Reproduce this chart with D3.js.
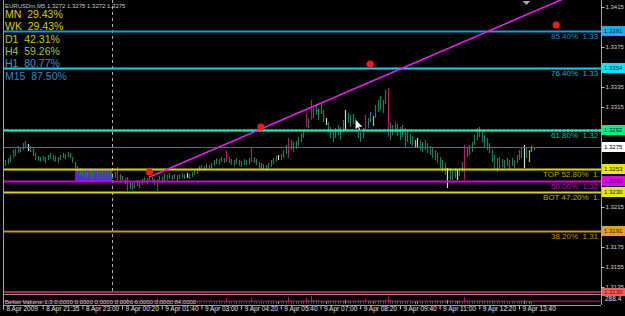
<!DOCTYPE html>
<html>
<head>
<meta charset="utf-8">
<script src="https://cdn.jsdelivr.net/npm/d3@7"></script>
<style>
body { margin: 0; background: #000; }
svg { display: block; font-family: "Liberation Sans", Arial, sans-serif; }
</style>
</head>
<body>
<svg width="625" height="316"></svg>
<script>
// ---- data ----
var symbolTitle = "EURUSDm,M5  1.3272 1.3275 1.3272 1.3275";
var lastPrice = 1.3275;

var tfNames = ["MN", "WK", "D1", "H4", "H1", "M15"];
var tfValues = [29.43, 29.43, 42.31, 59.26, 80.77, 87.50];

var fibPct = [85.40, 76.40, 61.80, 52.80, 50.00, 47.20, 38.20];
var fibPrefix = ["", "", "", "TOP ", "", "BOT ", ""];
var fibPrice = [1.3391, 1.3354, 1.3292, 1.3253, 1.3241, 1.3230, 1.3191];
var stopPrice = 1.3130;

// price-axis labels that are not hidden behind a price tag
var axisTicks = [1.3415, 1.3375, 1.3335, 1.3315, 1.3215, 1.3175, 1.3155, 1.3135];

var timeLabels = ["8 Apr 2009", "8 Apr 21:35", "8 Apr 23:00", "9 Apr 00:20", "9 Apr 01:40",
                  "9 Apr 03:00", "9 Apr 04:20", "9 Apr 05:40", "9 Apr 07:00", "9 Apr 08:20",
                  "9 Apr 09:40", "9 Apr 11:00", "9 Apr 12:20", "9 Apr 13:40"];
var timeTickIdx = [-1, 15, 31, 47, 63, 79, 95, 111, 127, 143, 159, 175, 191, 207];

// M5 bars, prices in pips above 1.3000
var barHigh = [262,264,267,272,273,276,275,279,281,278,276,274,269,266,265,266,265,267,269,267,
  266,265,267,269,268,270,269,265,260,256,254,252,251,250,252,250,252,251,250,252,
  251,253,251,249,250,255,248,246,244,245,240,239,241,242,240,243,245,244,246,245,
  243,243,246,245,248,247,249,247,248,247,248,249,248,249,248,250,252,254,256,257,
  256,258,257,259,262,264,263,265,264,272,265,263,262,264,262,261,263,262,264,274,
  265,263,260,259,258,257,259,262,264,266,267,268,272,277,284,282,280,281,285,289,
  292,309,304,322,314,317,314,318,312,304,300,295,292,294,297,295,302,312,309,307,
  308,304,297,292,294,307,304,310,306,317,322,326,322,332,334,300,297,300,298,295,
  297,294,290,288,286,282,284,282,280,282,279,276,274,272,269,265,262,259,254,254,
  252,254,252,254,260,277,274,277,280,287,294,295,290,287,284,279,272,267,264,265,
  263,262,264,262,264,262,267,272,274,277,274,272,276,275];
var barLow = [256,258,260,264,266,269,270,272,274,271,270,266,262,261,260,261,259,262,263,261,
  260,259,262,264,263,265,264,259,254,250,247,246,244,245,246,244,247,245,244,246,
  245,247,244,243,244,242,242,240,238,231,233,232,234,236,234,237,239,238,240,239,
  237,231,240,239,241,242,243,242,243,241,243,244,243,244,243,245,247,248,251,252,
  251,253,252,254,256,258,257,260,259,260,259,257,256,258,256,255,257,257,258,260,
  259,257,254,253,252,251,253,255,258,260,262,262,264,268,264,272,270,273,276,280,
  284,295,294,302,304,307,302,308,300,297,290,284,280,284,287,282,290,292,299,295,
  298,294,284,280,284,292,294,300,296,304,310,312,309,318,285,282,287,290,286,282,
  285,275,280,278,276,274,275,272,270,272,269,267,264,262,259,254,250,247,234,242,
  242,244,242,246,250,242,265,267,270,277,282,285,280,274,272,269,260,252,250,254,
  255,254,256,252,256,254,259,262,264,254,264,260,270,272];
// tick volume of each bar
var barVolume = [60,45,70,85,66,72,55,90,95,80, 62,70,88,54,40,38,45,50,42,36,
  35,40,38,44,30,36,32,48,65,70, 55,40,38,32,30,28,35,30,26,33,
  30,28,34,40,45,160,55,60,70,190, 75,60,55,48,52,50,45,40,44,38,
  42,170,50,45,40,38,35,30,32,36, 34,30,28,26,30,35,40,45,42,38,
  40,36,44,50,55,60,52,48,50,210, 70,60,55,50,48,52,45,44,50,220,
  65,58,52,48,50,46,55,60,58,62, 70,75,80,95,240,110,90,85,95,100,
  120,230,140,288,150,130,120,110,100,90, 95,110,120,100,90,105,115,130,110,100,
  95,90,110,120,100,200,115,100,95,110, 120,130,115,140,260,150,110,100,95,105,
  100,115,90,85,80,75,70,80,85,75, 80,85,90,95,100,110,120,115,130,100,
  95,90,100,85,90,230,110,100,95,105, 115,100,95,90,100,110,120,105,95,90,
  85,80,75,80,85,90,95,100,105,110, 90,85,60,15];
var volumeMax = 288.4;
var volumeAvg = 90;
var volumeTitle = "Better Volume 1.3 0.0000 0.0000 0.0000 0.0000 6.0000 0.0000 84.0000";

// Better Volume bar categories (all other bars are normal)
var climaxBars = [45, 49, 61, 89, 99, 114, 121, 123, 145, 154, 185];
var churnBars = [9, 73, 110, 129, 137, 166, 178, 182, 209];
var lowVolBars = [148, 165, 211];
var risingBars = [212];

// session box, trend line, projection dots
var boxIdx = [28, 43];
var boxPrice = [1.3253, 1.3241];
var daySeparatorIdx = 43;
var trendIdx = [58, 207];
var trendPrice = [1.3245, 1.3404];
var dotIdx = [58, 103, 147, 222];
var dotPrice = [1.3250, 1.3295, 1.3358, 1.3397];
var shiftMarkIdx = 210;
var cursorAt = [141, 1.3303];

// ---- drawing ----
var svg = d3.select("svg");
var PIP = 0.0001, BASE = 1.3;
var plotLeft = 3, plotRight = 601, mainBottom = 293;

var x = d3.scaleLinear().domain([-1, 207]).range([3, 519]);
var y = d3.scaleLinear().domain([1.3422, 1.3130]).range([0, 292]);
var vy = d3.scaleLinear().domain([0, volumeMax]).range([303.5, 296]);

var kindColor = {normal: "#227a60", climax: "#b01c68", churn: "#d8d8d8", low: "#c8c800", rising: "#10d050"};
function kindOf(i) {
  if (climaxBars.indexOf(i) >= 0) return "climax";
  if (churnBars.indexOf(i) >= 0) return "churn";
  if (lowVolBars.indexOf(i) >= 0) return "low";
  if (risingBars.indexOf(i) >= 0) return "rising";
  return "normal";
}

svg.append("rect").attr("width", 625).attr("height", 316).attr("fill", "#000");

svg.append("defs").append("clipPath").attr("id", "mainClip")
  .append("rect").attr("x", plotLeft).attr("y", 0)
  .attr("width", plotRight - plotLeft).attr("height", mainBottom);

var main = svg.append("g").attr("clip-path", "url(#mainClip)");

// session box
main.append("rect")
  .attr("x", x(boxIdx[0])).attr("y", y(boxPrice[0]))
  .attr("width", x(boxIdx[1]) - x(boxIdx[0]))
  .attr("height", y(boxPrice[1]) - y(boxPrice[0]))
  .attr("fill", "#5a2ecb");

// price bars
var bars = d3.range(barHigh.length).map(function(i) {
  return {i: i, high: BASE + barHigh[i] * PIP, low: BASE + barLow[i] * PIP, kind: kindOf(i)};
});
main.selectAll(".bar").data(bars).enter().append("line")
  .attr("class", "bar")
  .attr("x1", function(d) { return Math.round(x(d.i)) + 0.5; })
  .attr("x2", function(d) { return Math.round(x(d.i)) + 0.5; })
  .attr("y1", function(d) { return y(d.high); })
  .attr("y2", function(d) { return y(d.low); })
  .attr("stroke", function(d) { return kindColor[d.kind]; })
  .attr("stroke-width", 1.2);

// day separator
main.append("line")
  .attr("x1", Math.round(x(daySeparatorIdx)) + 0.5).attr("x2", Math.round(x(daySeparatorIdx)) + 0.5)
  .attr("y1", 0).attr("y2", 305)
  .attr("stroke", "#b0b0b0").attr("stroke-dasharray", "3,3");

// fib levels
var fibLine = ["#00a0e8", "#00d8f0", "#00ff90", "#d8d800", "#d000d0", "#d8d800", "#c89018"];
var fibText = ["#2c8cc8", "#1ab0d0", "#20b8a0", "#b4b400", "#c010c0", "#b4b400", "#c88c1e"];
var fibBox = ["#22a8f0", "#00e8ff", "#00f080", "#e8e800", "#e000e0", "#e8e800", "#e8a020"];

var levels = fibPct.map(function(p, k) {
  return {pct: p, prefix: fibPrefix[k], price: fibPrice[k], k: k};
});

main.selectAll(".fib").data(levels).enter().append("line")
  .attr("class", "fib")
  .attr("x1", plotLeft).attr("x2", plotRight)
  .attr("y1", function(d) { return Math.round(y(d.price)) + 0.5; })
  .attr("y2", function(d) { return Math.round(y(d.price)) + 0.5; })
  .attr("stroke", function(d) { return fibLine[d.k]; })
  .attr("stroke-width", 2);
// the 61.8 line is drawn dashed cyan on green
main.append("line")
  .attr("x1", plotLeft).attr("x2", plotRight)
  .attr("y1", Math.round(y(fibPrice[2])) + 0.5).attr("y2", Math.round(y(fibPrice[2])) + 0.5)
  .attr("stroke", "#00e8ff").attr("stroke-width", 2).attr("stroke-dasharray", "2,2");

// last price line
main.append("line")
  .attr("x1", plotLeft).attr("x2", plotRight)
  .attr("y1", Math.round(y(lastPrice)) + 0.5).attr("y2", Math.round(y(lastPrice)) + 0.5)
  .attr("stroke", "#5c6a78").attr("stroke-width", 1);

// stop line at bottom
main.append("line")
  .attr("x1", plotLeft).attr("x2", plotRight)
  .attr("y1", y(stopPrice)).attr("y2", y(stopPrice))
  .attr("stroke", "#e03a5a").attr("stroke-width", 1.5);

// fib labels, cut where the price axis begins (as the terminal shows them)
main.selectAll(".fibLabel").data(levels).enter().append("text")
  .attr("class", "fibLabel")
  .attr("x", function(d) { return d.prefix ? 543 : 551; })
  .attr("y", function(d) { return y(d.price) + 8; })
  .attr("fill", function(d) { return fibText[d.k]; })
  .style("font-size", "8px")
  .style("white-space", "pre")
  .text(function(d) { return d.prefix + d.pct.toFixed(2) + "%  " + d.price.toFixed(4); })
  .each(function(d) {
    var room = plotRight + 0.5 - (d.prefix ? 543 : 551);
    var t = d3.select(this), s = t.text();
    while (s.length && this.getComputedTextLength() > room) {
      s = s.slice(0, -1);
      t.text(s);
    }
  });

// trend line (ray)
var slope = (trendPrice[1] - trendPrice[0]) / (trendIdx[1] - trendIdx[0]);
var rayEnd = 240;
main.append("line")
  .attr("x1", x(trendIdx[0])).attr("y1", y(trendPrice[0]))
  .attr("x2", x(rayEnd)).attr("y2", y(trendPrice[0] + slope * (rayEnd - trendIdx[0])))
  .attr("stroke", "#e81ee8").attr("stroke-width", 1.6);

// projection dots
main.selectAll(".dot").data(dotIdx).enter().append("circle")
  .attr("class", "dot")
  .attr("cx", function(d) { return x(d); })
  .attr("cy", function(d, k) { return y(dotPrice[k]); })
  .attr("r", 3.6)
  .attr("fill", "#ff1818");

// chart shift marker
var sx = x(shiftMarkIdx);
svg.append("path")
  .attr("d", "M" + (sx - 4) + ",1L" + (sx + 4) + ",1L" + sx + ",5Z")
  .attr("fill", "#a8a8a8");

// mouse cursor
var cx = x(cursorAt[0]), cy = y(cursorAt[1]);
svg.append("path")
  .attr("d", "M" + cx + "," + cy + "l0,11l2.5,-2.5l2,4.5l1.5,-0.7l-2,-4.3l3.5,0z")
  .attr("fill", "#fff").attr("stroke", "#000").attr("stroke-width", 0.6);

// timeframe strength readout
var tfColor = ["#d0d000", "#d0d000", "#c8c800", "#99cc33", "#3399cc", "#3a86c8"];
svg.selectAll(".tf").data(tfNames).enter().append("text")
  .attr("class", "tf")
  .attr("x", 5)
  .attr("y", function(d, k) { return 18 + k * 12.3; })
  .attr("fill", function(d, k) { return tfColor[k]; })
  .style("font-size", "10.5px")
  .style("white-space", "pre")
  .text(function(d, k) { return d + "  " + tfValues[k].toFixed(2) + "%"; });

svg.append("text")
  .attr("x", 5).attr("y", 8)
  .attr("fill", "#c8c8c8")
  .style("font-size", "6px")
  .text(symbolTitle);

// volume sub-window
svg.append("line").attr("x1", plotLeft).attr("x2", plotRight).attr("y1", 294.5).attr("y2", 294.5)
  .attr("stroke", "#909090");
svg.selectAll(".vol").data(barVolume).enter().append("line")
  .attr("class", "vol")
  .attr("x1", function(d, i) { return Math.round(x(i)) + 0.5; })
  .attr("x2", function(d, i) { return Math.round(x(i)) + 0.5; })
  .attr("y1", vy(0))
  .attr("y2", function(d) { return vy(d); })
  .attr("stroke", function(d, i) { return kindColor[kindOf(i)]; });
svg.append("line").attr("x1", plotLeft).attr("x2", plotRight)
  .attr("y1", vy(volumeAvg)).attr("y2", vy(volumeAvg))
  .attr("stroke", "#c02078").attr("stroke-width", 1);
svg.append("text")
  .attr("x", 5).attr("y", 303.5)
  .attr("fill", "#c0c0c0")
  .style("font-size", "6px")
  .text(volumeTitle);
svg.append("text")
  .attr("x", 605).attr("y", 301)
  .attr("fill", "#e0e0e0")
  .style("font-size", "6.5px")
  .text(volumeMax.toFixed(1));

// frame
svg.append("line").attr("x1", plotLeft + 0.5).attr("x2", plotLeft + 0.5).attr("y1", 0).attr("y2", 305)
  .attr("stroke", "#a0a0a0");
svg.append("line").attr("x1", plotLeft).attr("x2", plotRight).attr("y1", 305.5).attr("y2", 305.5)
  .attr("stroke", "#a0a0a0");

// price axis
var yAxis = svg.append("g")
  .attr("transform", "translate(" + (plotRight + 0.5) + ",0)")
  .call(d3.axisRight(y).tickValues(axisTicks).tickFormat(d3.format(".4f")).tickSize(3).tickSizeOuter(0));
yAxis.select(".domain").attr("stroke", "#a0a0a0").attr("d", "M0,0V305");
yAxis.selectAll(".tick line").attr("stroke", "#c0c0c0");
yAxis.selectAll(".tick text").attr("fill", "#d0d0d0").attr("x", 4).attr("dy", "0.2em")
  .style("font-size", "6px")
  .style("font-family", "'Liberation Sans', Arial, sans-serif");

// coloured price tags on the axis
function priceTag(price, bg, fg, h) {
  var g = svg.append("g").attr("transform", "translate(602," + Math.round(y(price)) + ")");
  g.append("rect").attr("x", 0).attr("y", -h / 2).attr("width", 23).attr("height", h).attr("fill", bg);
  g.append("text").attr("x", 2).attr("y", 2.2).attr("fill", fg).style("font-size", "6px")
    .text(price.toFixed(4));
}
levels.forEach(function(d) { priceTag(d.price, fibBox[d.k], "#102040", 10); });
priceTag(lastPrice, "#ffffff", "#000", 10);
priceTag(stopPrice, "#ff5a5a", "#401010", 8);

// time axis
var xAxis = svg.append("g")
  .attr("transform", "translate(0,305.5)")
  .call(d3.axisBottom(x).tickValues(timeTickIdx)
    .tickFormat(function(d, k) { return timeLabels[k]; }).tickSize(4).tickSizeOuter(0));
xAxis.select(".domain").remove();
xAxis.selectAll(".tick line").attr("stroke", "#c0c0c0");
xAxis.selectAll(".tick text").attr("fill", "#e0e0e0").attr("y", 1).attr("dy", "0.71em")
  .attr("x", 3).attr("text-anchor", "start").style("font-size", "6.5px")
  .style("font-family", "'Liberation Sans', Arial, sans-serif");
</script>
</body>
</html>
